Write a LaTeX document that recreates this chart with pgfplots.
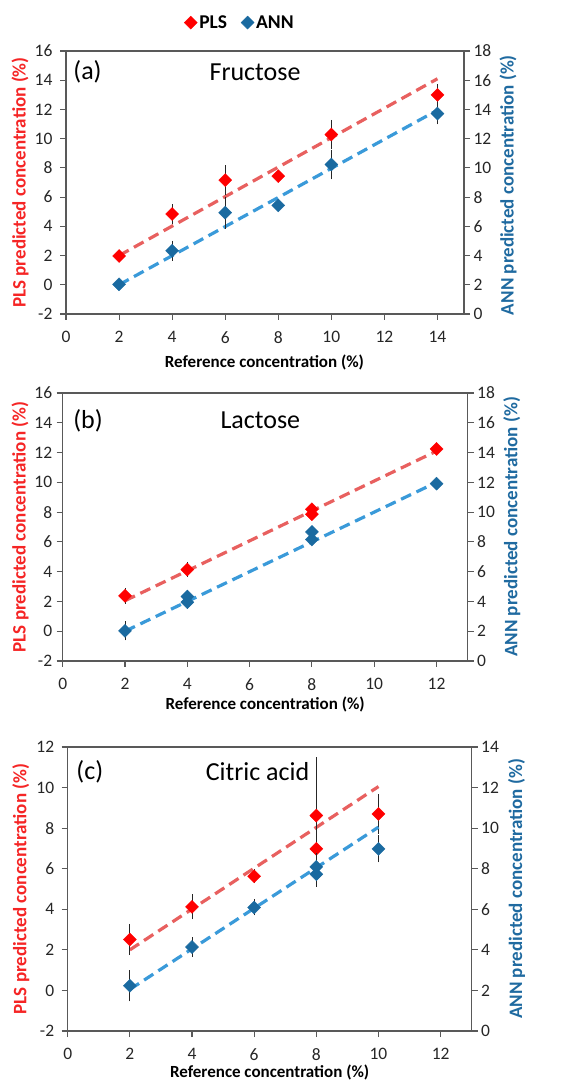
\documentclass[border=0pt]{standalone}
\usepackage{fontspec}
\setmainfont{Carlito}
\usepackage{pgfplots}
\pgfplotsset{compat=1.18}
\definecolor{plsmk}{HTML}{FF0000}
\definecolor{annmk}{HTML}{1A6AA0}
\definecolor{plsln}{HTML}{E8605F}
\definecolor{annln}{HTML}{3A9AD9}
\definecolor{axgray}{HTML}{595959}
\definecolor{plslab}{HTML}{F52525}
\definecolor{annlab}{HTML}{1F6AA0}

\tikzset{ttl/.style={font=\fontsize{26}{26}\selectfont, anchor=center}}
\pgfplotsset{
  base/.style={scale only axis, clip=false,
    axis line style={axgray, line width=1.1pt},
    major tick style={axgray, line width=1.1pt},
    major tick length=6pt, tick align=outside,
    every tick label/.append style={font=\fontsize{17.5}{17.5}\selectfont, text=black!85},
    tick label style={font=\fontsize{17.5}{17.5}\selectfont, text=black!85},
    /pgf/number format/assume math mode=true,
    xlabel style={font=\bfseries\fontsize{17}{17}\selectfont},
    ylabel style={font=\bfseries\fontsize{19}{19}\selectfont},
    xticklabel shift=8pt},
  errs/.style={/pgfplots/error bars/y dir=both, /pgfplots/error bars/y explicit,
    /pgfplots/error bars/error bar style={black!85, line width=0.9pt},
    /pgfplots/error bars/error mark options={black!85, mark size=3.5pt, line width=0.9pt}},
  plsm/.style={only marks, mark=square*, mark size=4.6pt,
    mark options={rotate=45, fill=plsmk, draw=plsmk}, errs},
  annm/.style={only marks, mark=square*, mark size=4.6pt,
    mark options={rotate=45, fill=annmk, draw=annmk}, errs},
  plsl/.style={plsln, line width=3.2pt, dash pattern=on 11pt off 6pt, no marks},
  annl/.style={annln, line width=3.2pt, dash pattern=on 11pt off 6pt, no marks},
}

\begin{document}
\begin{tikzpicture}[x=1pt,y=1pt]
\useasboundingbox (0,0) rectangle (575,1080);

% ---------------- Panel (a) ----------------
\begin{axis}[base, at={(66pt,766pt)}, anchor=south west,
  width=398pt, height=263pt,
  xmin=0, xmax=15, xtick={0,2,...,14},
  ymin=-2, ymax=16, ytick={-2,0,...,16},
  xtick pos=bottom, ytick pos=left, yticklabel shift=4pt,
  xlabel={Reference concentration (\%)},
  xlabel style={at={(axis description cs:0.4987,-0.1825)}, anchor=center},
  ylabel={PLS predicted concentration (\%)},
  ylabel style={at={(axis description cs:-0.1156,0.5)}, anchor=center, text=plslab},
  legend style={at={(axis description cs:0.437,1.108)}, anchor=center, draw=none,
    fill=none, font=\bfseries\fontsize{19.5}{19.5}\selectfont, legend columns=2,
    /tikz/every even column/.append style={column sep=12pt}},
  legend cell align=left]
\addplot[forget plot, plsl] coordinates {(2,2) (14,14.1)};
\addplot[forget plot, plsm] table[x=x, y=y, y error=e] {
x y e
2 1.97 0.15
4 4.84 0.42
6 7.16 0.78
8 7.44 0.15
10 10.28 0.77
14 13.0 0.5
};
\addlegendimage{only marks, mark=square*, mark size=4.6pt, mark options={rotate=45, fill=plsmk, draw=plsmk}}
\addlegendentry{PLS}
\addlegendimage{only marks, mark=square*, mark size=4.6pt, mark options={rotate=45, fill=annmk, draw=annmk}}
\addlegendentry{ANN}
\node[ttl] at (axis description cs:0.054,0.92) {(a)};
\node[ttl] at (axis description cs:0.475,0.92) {Fructose};
\end{axis}
\begin{axis}[base, at={(66pt,766pt)}, anchor=south west,
  width=398pt, height=263pt,
  xmin=0, xmax=15, axis x line=none, axis y line*=right,
  ymin=0, ymax=18, ytick={0,2,...,18},
  ylabel={ANN predicted concentration (\%)},
  ylabel style={at={(axis description cs:1.1106,0.49)}, anchor=center, text=annlab}]
\addplot[annl] coordinates {(2,2) (14,13.95)};
\addplot[annm] table[x=x, y=y, y error=e] {
x y e
2 2.03 0.15
4 4.33 0.45
6 6.93 0.85
8 7.43 0.15
10 10.23 0.77
14 13.72 0.5
};
\end{axis}

% ---------------- Panel (b) ----------------
\begin{axis}[base, at={(62.7pt,419pt)}, anchor=south west,
  width=405pt, height=268pt,
  xmin=0, xmax=13, xtick={0,2,...,12},
  ymin=-2, ymax=16, ytick={-2,0,...,16},
  xtick pos=bottom, ytick pos=left, yticklabel shift=1pt,
  xlabel={Reference concentration (\%)},
  xlabel style={at={(axis description cs:0.5,-0.162)}, anchor=center},
  ylabel={PLS predicted concentration (\%)},
  ylabel style={at={(axis description cs:-0.1054,0.5)}, anchor=center, text=plslab}]
\addplot[plsl] coordinates {(2,2.05) (12,12.1)};
\addplot[plsm] table[x=x, y=y, y error=e] {
x y e
2 2.38 0.3
4 4.14 0.28
8 8.19 0.15
8 7.86 0.15
12 12.24 0.1
};
\node[ttl] at (axis description cs:0.0625,0.897) {(b)};
\node[ttl] at (axis description cs:0.488,0.897) {Lactose};
\end{axis}
\begin{axis}[base, at={(62.7pt,419pt)}, anchor=south west,
  width=405pt, height=268pt,
  xmin=0, xmax=13, axis x line=none, axis y line*=right,
  ymin=0, ymax=18, ytick={0,2,...,18},
  ylabel={ANN predicted concentration (\%)},
  ylabel style={at={(axis description cs:1.109,0.5)}, anchor=center, text=annlab}]
\addplot[annl] coordinates {(2,2) (12,12)};
\addplot[annm] table[x=x, y=y, y error=e] {
x y e
2 2.02 0.4
4 3.95 0.2
4 4.33 0.2
8 8.67 0.15
8 8.16 0.15
12 11.91 0.1
};
\end{axis}

% ---------------- Panel (c) ----------------
\begin{axis}[base, at={(67.7pt,49pt)}, anchor=south west,
  width=404pt, height=284pt,
  xmin=0, xmax=13, xtick={0,2,...,12},
  ymin=-2, ymax=12, ytick={-2,0,...,12},
  xtick pos=bottom, ytick pos=left, yticklabel shift=4pt,
  xlabel={Reference concentration (\%)},
  xlabel style={at={(axis description cs:0.5,-0.146)}, anchor=center},
  ylabel={PLS predicted concentration (\%)},
  ylabel style={at={(axis description cs:-0.1163,0.5)}, anchor=center, text=plslab}]
\addplot[plsl] coordinates {(2,2) (10,10.05)};
\addplot[plsm] table[x=x, y=y, y error=e] {
x y e
2 2.51 0.6
4 4.12 0.45
6 5.63 0.17
8 8.62 2.69
8 6.98 0.47
10 8.70 0.8
};
\node[ttl] at (axis description cs:0.0547,0.913) {(c)};
\node[ttl] at (axis description cs:0.47,0.913) {Citric acid};
\end{axis}
\begin{axis}[base, at={(67.7pt,49pt)}, anchor=south west,
  width=404pt, height=284pt,
  xmin=0, xmax=13, axis x line=none, axis y line*=right,
  ymin=0, ymax=14, ytick={0,2,...,14},
  ylabel={ANN predicted concentration (\%)},
  ylabel style={at={(axis description cs:1.111,0.5)}, anchor=center, text=annlab}]
\addplot[annl] coordinates {(2,2.05) (10,10.05)};
\addplot[annm] table[x=x, y=y, y error=e] {
x y e
2 2.23 0.6
4 4.14 0.32
6 6.09 0.22
8 8.09 0.5
8 7.73 0.45
10 8.98 0.5
};
\end{axis}
\end{tikzpicture}
\end{document}
